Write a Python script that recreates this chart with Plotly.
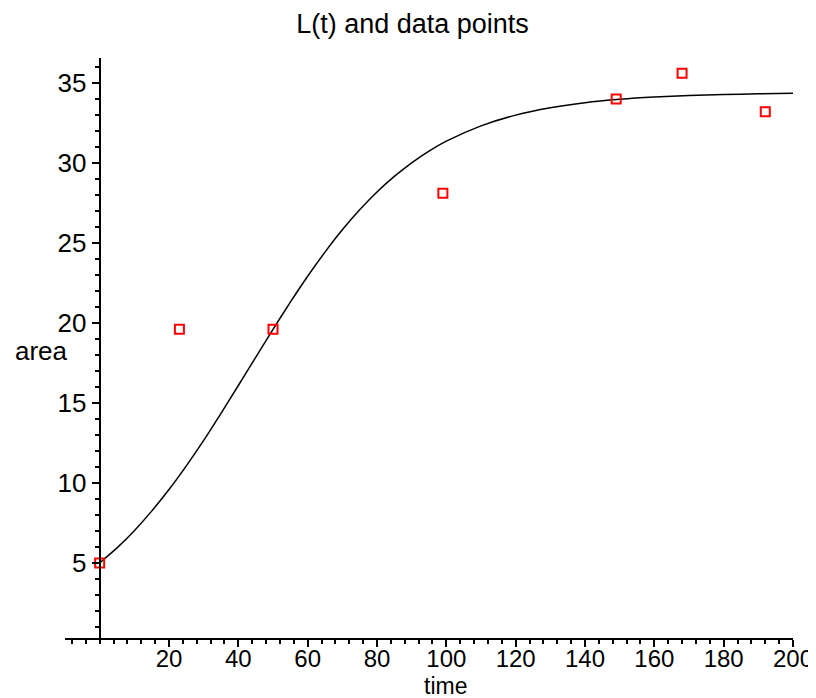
import plotly.graph_objects as go

# Data points (time, area)
data_time = [0, 23, 50, 99, 149, 168, 192]
data_area = [5.0, 19.6, 19.6, 28.1, 34.0, 35.6, 33.2]

# Curve L(t)
curve_time = [0, 5, 10, 15, 20, 25, 30, 35, 40, 45, 50, 55, 60, 65, 70, 75, 80, 85,
              90, 95, 100, 110, 120, 130, 140, 150, 160, 170, 180, 190, 200]
curve_area = [5.00, 5.94, 7.02, 8.24, 9.59, 11.07, 12.66, 14.35, 16.09, 17.85, 19.60,
              21.30, 22.92, 24.43, 25.82, 27.07, 28.19, 29.16, 30.01, 30.74, 31.36,
              32.32, 32.99, 33.45, 33.77, 33.98, 34.12, 34.21, 34.28, 34.32, 34.35]

x_ticks = [20, 40, 60, 80, 100, 120, 140, 160, 180, 200]
y_ticks = [5, 10, 15, 20, 25, 30, 35]

FONT = "Liberation Sans, Arial, sans-serif"
OFF = 8  # page body margin of the html page

fig = go.Figure()
fig.add_trace(go.Scatter(
    x=curve_time, y=curve_area, mode="lines",
    line=dict(color="black", width=1.5, shape="spline", smoothing=0.6),
    showlegend=False, hoverinfo="skip"))
fig.add_trace(go.Scatter(
    x=data_time, y=data_area, mode="markers",
    marker=dict(symbol="square-open", size=9, color="#ff0000",
                line=dict(width=2, color="#ff0000")),
    showlegend=False))

fig.update_layout(
    width=816 - OFF, height=698 - OFF,
    paper_bgcolor="white", plot_bgcolor="white",
    margin=dict(l=65 - OFF, r=23, t=58 - OFF, b=60),
    font=dict(family=FONT, size=26, color="black"),
    title=dict(text="L(t) and data points", x=(412.5 - OFF) / (816 - OFF), xref="container",
               xanchor="center", y=1 - (24 - OFF) / (698 - OFF), yref="container",
               yanchor="middle", font=dict(family=FONT, size=27, color="black")),
    xaxis=dict(range=[-10, 200], showgrid=False, zeroline=False,
               showline=True, linecolor="black", linewidth=2,
               ticks="outside", ticklen=7, tickwidth=1.5, tickcolor="black",
               tickvals=x_ticks, ticktext=[str(v) for v in x_ticks],
               tickfont=dict(family=FONT, size=24, color="black"),
               ticklabelstandoff=-9,
               minor=dict(dtick=4, tick0=0, ticks="outside", ticklen=4,
                          tickwidth=1.5, tickcolor="black", showgrid=False),
               automargin=False),
    yaxis=dict(range=[0.31, 36.56], showgrid=False, zeroline=False,
               anchor="free", position=10 / 210,
               showline=True, linecolor="black", linewidth=2,
               ticks="outside", ticklen=7, tickwidth=1.5, tickcolor="black",
               tickvals=y_ticks, ticktext=[str(v) for v in y_ticks],
               tickfont=dict(family=FONT, size=26, color="black"),
               minor=dict(dtick=1, tick0=0, ticks="outside", ticklen=4,
                          tickwidth=1.5, tickcolor="black", showgrid=False),
               automargin=False),
    annotations=[
        dict(text="area", xref="paper", yref="paper",
             x=(13 - 65) / 728, y=(638 - 351) / 580, xanchor="left", yanchor="middle",
             showarrow=False, font=dict(family=FONT, size=26, color="black")),
        dict(text="time", xref="paper", yref="paper",
             x=(445 - 65) / 728, y=(638 - 686) / 580, xanchor="center", yanchor="middle",
             showarrow=False, font=dict(family=FONT, size=23, color="black")),
    ],
)

fig.write_html("out.html")
